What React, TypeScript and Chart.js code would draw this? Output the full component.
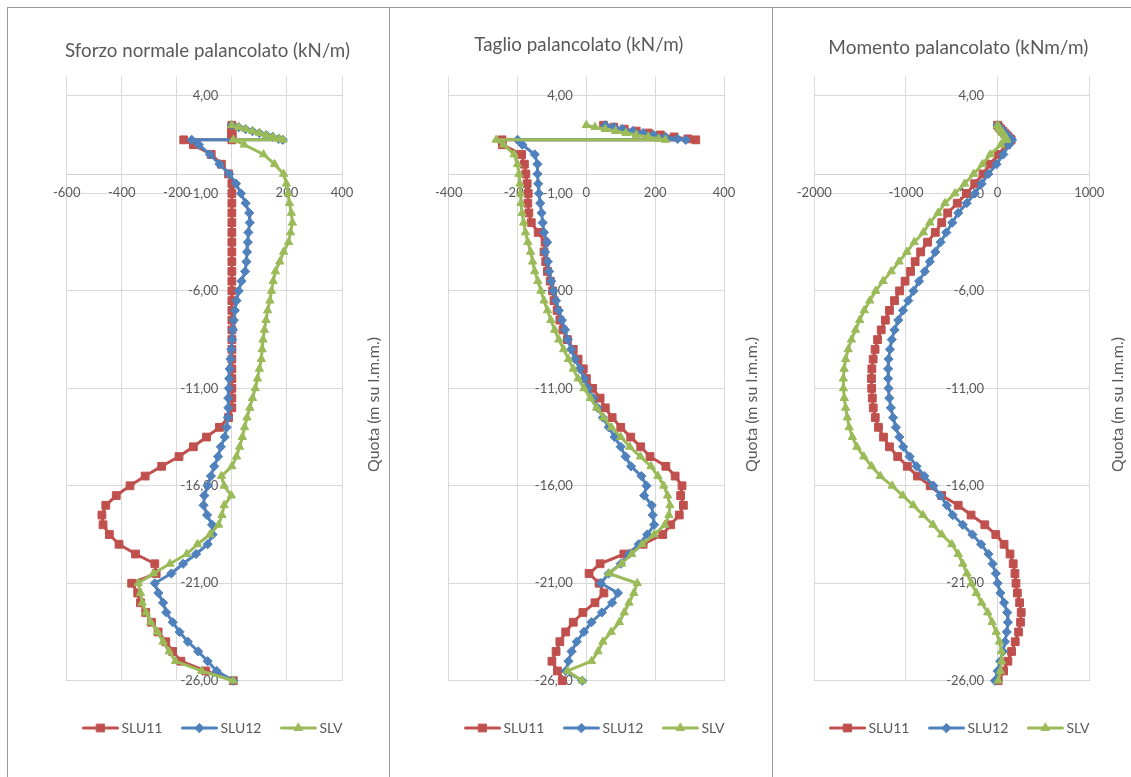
import React, { useEffect, useRef } from "react";
import { Chart, registerables } from "chart.js";

Chart.register(...registerables);

const FONT = "Lato, 'Open Sans', 'DejaVu Sans', sans-serif";
const TEXT_COLOR = "#595959";
const GRID_COLOR = "#d9d9d9";
const AXIS_COLOR = "#d0d0d0";
const FRAME_COLOR = "#9a9a9a";

// Quota (m s.l.m.m.) of every node, shared by all series
const quota = [
  2.5, 2.4, 2.3, 2.2, 2.1, 2.0, 1.9, 1.8, 1.75,
  1.75, 1.5, 1.0, 0.5, 0.0,
  -0.5, -1.0, -1.5, -2.0, -2.5, -3.0, -3.5, -4.0, -4.5, -5.0,
  -5.5, -6.0, -6.5, -7.0, -7.5, -8.0, -8.5, -9.0, -9.5, -10.0,
  -10.5, -11.0, -11.5, -12.0, -12.5, -13.0, -13.5, -14.0, -14.5, -15.0,
  -15.5, -16.0, -16.5, -17.0, -17.5, -18.0, -18.5, -19.0, -19.5, -20.0,
  -20.5, -21.0, -21.5, -22.0, -22.5, -23.0, -23.5, -24.0, -24.5, -25.0,
  -25.5, -26.0,
];

const seriesNames = ["SLU11", "SLU12", "SLV"];

// Sforzo normale (kN/m)
const sforzoSLU11 = [
  0, 0, 0, 0, 0, 0, 0, 0, 0,
  -175, -140, -75, -38, -12,
  0, 0, 0, 0, 0, 0, 0, 0, 0, 0,
  0, 0, 0, 0, 0, 0, 0, 0, 0, 0,
  0, 0, 0, 0, -12, -45, -92, -140, -192, -255,
  -315, -370, -420, -458, -472, -468, -445, -410, -350, -280,
  -275, -364, -342, -332, -313, -292, -268, -240, -215, -185,
  -95, 5,
];
const sforzoSLU12 = [
  0, 25, 50, 75, 100, 125, 148, 170, 185,
  -146, -120, -80, -45, -10,
  15, 33, 50, 63, 65, 60, 58, 55, 53, 48,
  35, 25, 17, 11, 7, 4, 1, -2, -5, -8,
  -10, -11, -13, -13, -15, -19, -26, -40, -50, -64,
  -76, -88, -100, -103, -90, -72, -70, -88, -130, -177,
  -220, -280, -267, -250, -238, -215, -190, -160, -122, -88,
  -55, 5,
];
const sforzoSLV = [
  0, 25, 50, 75, 100, 125, 150, 172, 186,
  5, 45, 115, 155, 188,
  198, 204, 209, 216, 220, 213, 206, 188, 174, 158,
  150, 144, 138, 130, 124, 118, 113, 110, 107, 100,
  93, 85, 75, 65, 55, 46, 38, 28, 17, 0,
  -38, -28, -2, -28, -36, -48, -80, -125, -164, -225,
  -285, -340, -332, -326, -312, -295, -270, -250, -228, -205,
  -110, 5,
];

// Taglio (kN/m)
const taglioSLU11 = [
  50, 80, 110, 145, 180, 215, 255, 295, 318,
  -245, -244, -188, -180, -176,
  -172, -169, -170, -167, -160, -140, -120, -123, -118, -113,
  -105, -98, -94, -85, -77, -68, -55, -38, -24, -9,
  0, 18, 40, 55, 75, 100, 129, 158, 185, 231,
  258, 278, 274, 282, 270, 245, 222, 165, 109, 40,
  8, 37, 51, 25, -10, -38, -60, -77, -88, -100,
  -84, -70,
];
const taglioSLU12 = [
  55, 80, 105, 135, 165, 195, 230, 265, 289,
  -200, -186, -150, -142, -142,
  -140, -138, -134, -130, -127, -123, -114, -120, -112, -108,
  -102, -95, -88, -80, -71, -62, -54, -44, -33, -19,
  -6, 5, 20, 33, 48, 65, 82, 100, 114, 130,
  160, 175, 168, 190, 193, 197, 177, 152, 124, 100,
  65, 42, 92, 75, 45, 15, -7, -28, -43, -52,
  -60, -12,
];
const taglioSLV = [
  0, 25, 55, 85, 115, 145, 180, 210, 230,
  -262, -240, -210, -200, -196,
  -193, -191, -190, -187, -182, -177, -170, -162, -156, -150,
  -141, -132, -123, -113, -103, -92, -80, -66, -52, -38,
  -24, -7, 12, 30, 50, 73, 100, 126, 157, 188,
  208, 225, 236, 243, 240, 228, 197, 162, 132, 102,
  65, 148, 138, 124, 110, 96, 72, 48, 34, 15,
  -55, -12,
];

// Momento (kNm/m)
const momentoSLU11 = [
  0, 15, 35, 55, 75, 95, 115, 135, 145,
  145, 95, 10, -85, -160,
  -250, -340, -440, -545, -610, -680, -765, -840, -900, -950,
  -1010, -1070, -1125, -1180, -1225, -1270, -1310, -1337, -1358, -1372,
  -1376, -1374, -1367, -1357, -1335, -1300, -1245, -1180, -1090, -985,
  -875, -735, -610, -430, -290, -140, -20, 70, 135, 170,
  189, 200, 215, 240, 257, 250, 228, 192, 152, 112,
  65, 7,
];
const momentoSLU12 = [
  0, 18, 38, 60, 80, 100, 122, 142, 155,
  155, 125, 62, -12, -102,
  -175, -248, -338, -430, -495, -560, -622, -680, -740, -795,
  -857, -918, -975, -1032, -1084, -1125, -1155, -1175, -1190, -1195,
  -1194, -1190, -1182, -1165, -1140, -1110, -1072, -1030, -960, -885,
  -800, -700, -625, -555, -490, -380, -275, -180, -100, -55,
  -20, 0, 30, 70, 105, 112, 100, 80, 58, 28,
  0, -29,
];
const momentoSLV = [
  0, 12, 25, 40, 55, 70, 85, 95, 100,
  100, 35, -80, -165, -262,
  -360, -466, -575, -650, -740, -810, -910, -990, -1075, -1160,
  -1250, -1330, -1395, -1455, -1505, -1550, -1595, -1630, -1658, -1675,
  -1683, -1682, -1673, -1658, -1640, -1620, -1585, -1535, -1460, -1375,
  -1280, -1150, -1035, -920, -815, -705, -610, -500, -430, -380,
  -335, -285, -232, -175, -108, -60, -15, 20, 42, 44,
  30, 7,
];

// Tick labels
const Y_TICKS = [-26, -21, -16, -11, -6, -1, 4];
const X_TICKS_SFORZO = [-600, -400, -200, 0, 200, 400];
const X_TICKS_TAGLIO = [-400, -200, 0, 200, 400];
const X_TICKS_MOMENTO = [-2000, -1000, 0, 1000];

const titles = [
  "Sforzo normale palancolato (kN/m)",
  "Taglio palancolato (kN/m)",
  "Momento palancolato (kNm/m)",
];
const yAxisTitle = "Quota (m su l.m.m.)";

const STYLES = [
  { color: "#C0504D", pointStyle: "rect", radius: 5.5, order: 2 },
  { color: "#4F81BD", pointStyle: "rectRot", radius: 4.6, order: 1 },
  { color: "#9BBB59", pointStyle: "triangle", radius: 4.8, order: 0 },
];

type PanelCfg = {
  id: string;
  canvasLeft: number;
  canvasWidth: number;
  plotLeft: number;
  plotRight: number;
  xTicks: number[];
  series: number[][];
  title: string;
  titleX: number;
  titleY: number;
  titleW: number;
  yTitleX: number;
  legendX: number;
};

const CANVAS_TOP = 8;
const CANVAS_H = 769;
const PLOT_TOP = 76.5;
const PLOT_BOTTOM = 680.7;

const PANELS: PanelCfg[] = [
  {
    id: "n", canvasLeft: 8, canvasWidth: 381, plotLeft: 66.7, plotRight: 342,
    xTicks: X_TICKS_SFORZO, series: [sforzoSLU11, sforzoSLU12, sforzoSLV],
    title: titles[0], titleX: 207.5, titleY: 51, titleW: 285, yTitleX: 373.5, legendX: 213,
  },
  {
    id: "t", canvasLeft: 391, canvasWidth: 381, plotLeft: 448.7, plotRight: 724,
    xTicks: X_TICKS_TAGLIO, series: [taglioSLU11, taglioSLU12, taglioSLV],
    title: titles[1], titleX: 578.8, titleY: 45.3, titleW: 209, yTitleX: 751.5, legendX: 595,
  },
  {
    id: "m", canvasLeft: 773, canvasWidth: 358, plotLeft: 814.3, plotRight: 1089.3,
    xTicks: X_TICKS_MOMENTO, series: [momentoSLU11, momentoSLU12, momentoSLV],
    title: titles[2], titleX: 958.3, titleY: 48.3, titleW: 260, yTitleX: 1117.5, legendX: 960,
  },
];

function fitSize(ctx: CanvasRenderingContext2D, text: string, target: number): number {
  ctx.font = `100px ${FONT}`;
  const w = ctx.measureText(text).width;
  return (100 * target) / w;
}

function fmtY(v: number): string {
  return v.toFixed(2).replace(".", ",");
}

function drawMarker(ctx: CanvasRenderingContext2D, style: string, x: number, y: number, r: number) {
  ctx.beginPath();
  if (style === "rect") {
    const s = r * Math.SQRT1_2;
    ctx.rect(x - s, y - s, 2 * s, 2 * s);
  } else if (style === "rectRot") {
    ctx.moveTo(x - r, y);
    ctx.lineTo(x, y - r);
    ctx.lineTo(x + r, y);
    ctx.lineTo(x, y + r);
    ctx.closePath();
  } else {
    ctx.moveTo(x, y - r);
    ctx.lineTo(x + 0.866 * r, y + 0.5 * r);
    ctx.lineTo(x - 0.866 * r, y + 0.5 * r);
    ctx.closePath();
  }
  ctx.fill();
  ctx.stroke();
}

function PanelChart({ p }: { p: PanelCfg }) {
  const ref = useRef<HTMLCanvasElement | null>(null);
  useEffect(() => {
    const canvas = ref.current;
    if (!canvas) return;
    const off = p.canvasLeft;

    const overlay = {
      id: "overlay",
      beforeDatasetsDraw(chart: any) {
        const { ctx, chartArea: ca } = chart;
        const xs = chart.scales.x;
        const ys = chart.scales.y;
        const x0 = xs.getPixelForValue(0);
        const y0 = ys.getPixelForValue(0);
        ctx.save();
        ctx.strokeStyle = AXIS_COLOR;
        ctx.lineWidth = 1;
        ctx.beginPath();
        const yy = Math.round(y0) + 0.5;
        ctx.moveTo(ca.left, yy);
        ctx.lineTo(ca.right, yy);
        ctx.stroke();

        const tickSize = fitSize(ctx, "-26,00", 38);
        ctx.font = `${tickSize}px ${FONT}`;
        ctx.fillStyle = TEXT_COLOR;
        ctx.textAlign = "center";
        ctx.textBaseline = "middle";
        for (const t of xs.ticks) {
          ctx.fillText(String(t.value), xs.getPixelForValue(t.value), y0 + 19);
        }
        ctx.textAlign = "right";
        for (const t of ys.ticks) {
          ctx.fillText(fmtY(t.value), x0 - 13.5, ys.getPixelForValue(t.value));
        }
        ctx.restore();
      },
      afterDraw(chart: any) {
        const { ctx } = chart;
        ctx.save();
        ctx.fillStyle = TEXT_COLOR;
        ctx.textBaseline = "middle";
        // chart title
        const ts = fitSize(ctx, p.title, p.titleW);
        ctx.font = `${ts}px ${FONT}`;
        ctx.textAlign = "center";
        ctx.fillText(p.title, p.titleX - off, p.titleY - CANVAS_TOP);

        // vertical axis title
        const ys2 = fitSize(ctx, yAxisTitle, 135);
        ctx.save();
        ctx.translate(p.yTitleX - off, 404.5 - CANVAS_TOP);
        ctx.rotate(-Math.PI / 2);
        ctx.font = `${ys2}px ${FONT}`;
        ctx.textAlign = "center";
        ctx.fillText(yAxisTitle, 0, 0);
        ctx.restore();

        // legend
        const ls = fitSize(ctx, "SLU11", 41);
        ctx.font = `${ls}px ${FONT}`;
        const lineLen = 34;
        const gap = 4;
        const itemGap = 20;
        const widths = seriesNames.map((n) => ctx.measureText(n).width);
        const total = widths.reduce((a, w) => a + lineLen + gap + w, 0) + itemGap * (seriesNames.length - 1);
        let lx = p.legendX - off - total / 2;
        const ly = 728 - CANVAS_TOP;
        ctx.textAlign = "left";
        seriesNames.forEach((n, i) => {
          const st = STYLES[i];
          ctx.strokeStyle = st.color;
          ctx.fillStyle = st.color;
          ctx.lineWidth = 3;
          ctx.lineCap = "round";
          ctx.beginPath();
          ctx.moveTo(lx, ly);
          ctx.lineTo(lx + lineLen, ly);
          ctx.stroke();
          ctx.lineWidth = 1;
          drawMarker(ctx, st.pointStyle, lx + lineLen / 2, ly, st.radius);
          ctx.fillStyle = TEXT_COLOR;
          ctx.fillText(n, lx + lineLen + gap, ly);
          lx += lineLen + gap + widths[i] + itemGap;
        });
        ctx.restore();
      },
    };

    const chart = new Chart(canvas, {
      type: "scatter",
      data: {
        datasets: p.series.map((vals, i) => ({
          label: seriesNames[i],
          data: quota.map((q, k) => ({ x: vals[k], y: q })),
          showLine: true,
          borderColor: STYLES[i].color,
          backgroundColor: STYLES[i].color,
          borderWidth: 3,
          borderJoinStyle: "round" as const,
          borderCapStyle: "round" as const,
          pointStyle: STYLES[i].pointStyle as any,
          pointRadius: STYLES[i].radius,
          pointBorderWidth: 1,
          pointBorderColor: STYLES[i].color,
          pointBackgroundColor: STYLES[i].color,
          order: STYLES[i].order,
          clip: false as any,
          tension: 0,
        })),
      },
      options: {
        responsive: false,
        animation: false,
        events: [],
        layout: {
          padding: {
            left: p.plotLeft - p.canvasLeft,
            right: p.canvasLeft + p.canvasWidth - p.plotRight,
            top: PLOT_TOP - CANVAS_TOP,
            bottom: CANVAS_TOP + CANVAS_H - PLOT_BOTTOM,
          },
        },
        plugins: {
          legend: { display: false },
          tooltip: { enabled: false },
          title: { display: false },
        },
        scales: {
          x: {
            type: "linear",
            min: p.xTicks[0],
            max: p.xTicks[p.xTicks.length - 1],
            afterBuildTicks: (scale: any) => {
              scale.ticks = p.xTicks.map((v) => ({ value: v }));
            },
            ticks: { display: false },
            grid: { color: GRID_COLOR, lineWidth: 1, drawTicks: false },
            border: { display: false },
          },
          y: {
            type: "linear",
            min: -26,
            max: 5,
            afterBuildTicks: (scale: any) => {
              scale.ticks = Y_TICKS.map((v) => ({ value: v }));
            },
            ticks: { display: false },
            grid: { color: GRID_COLOR, lineWidth: 1, drawTicks: false },
            border: { display: false },
          },
        },
      },
      plugins: [overlay],
    });
    return () => chart.destroy();
  }, [p]);

  return (
    <canvas
      ref={ref}
      width={p.canvasWidth}
      height={CANVAS_H}
      style={{ position: "absolute", left: p.canvasLeft, top: CANVAS_TOP, width: p.canvasWidth, height: CANVAS_H }}
    />
  );
}

export default function App() {
  const line = (s: React.CSSProperties) => (
    <div style={{ position: "absolute", background: FRAME_COLOR, ...s }} />
  );
  return (
    <div
      style={{
        position: "fixed",
        left: 0,
        top: 0,
        width: 1131,
        height: 777,
        background: "#ffffff",
        overflow: "hidden",
      }}
    >
      {line({ left: 7, top: 7, width: 1124, height: 1 })}
      {line({ left: 7, top: 7, width: 1, height: 770 })}
      {line({ left: 389, top: 7, width: 1, height: 770 })}
      {line({ left: 772, top: 7, width: 1, height: 770 })}
      {PANELS.map((p) => (
        <PanelChart key={p.id} p={p} />
      ))}
    </div>
  );
}
